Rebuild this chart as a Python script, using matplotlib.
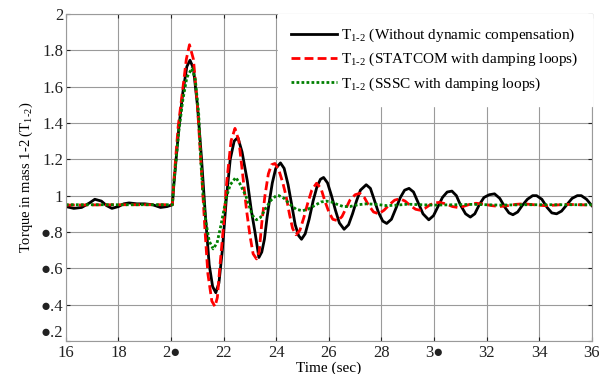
import matplotlib
matplotlib.use("Agg")
import matplotlib.pyplot as plt

# -----------------------------
# Fonts
# -----------------------------
plt.rcParams['font.family'] = ['Liberation Serif', 'DejaVu Sans']
plt.rcParams['mathtext.fontset'] = 'custom'
plt.rcParams['mathtext.rm'] = 'Liberation Serif'

# -----------------------------
# Data
# -----------------------------
t_black = [16.0, 16.3, 16.6, 16.9, 17.1, 17.35, 17.55, 17.75, 18.0, 18.2, 18.4, 18.7,
           19.0, 19.3, 19.6, 19.85, 20.05, 20.1, 20.3, 20.45, 20.6, 20.72, 20.85, 21.0,
           21.15, 21.3, 21.45, 21.58, 21.7, 21.82, 21.95, 22.1, 22.25, 22.4, 22.54, 22.7,
           22.9, 23.05, 23.19, 23.34, 23.45, 23.55, 23.65, 23.75, 23.85, 23.98, 24.16,
           24.3, 24.45, 24.6, 24.72, 24.85, 24.96, 25.1, 25.25, 25.4, 25.55, 25.68, 25.8,
           25.95, 26.1, 26.25, 26.4, 26.58, 26.75, 26.9, 27.05, 27.2, 27.42, 27.58, 27.72,
           27.88, 28.05, 28.2, 28.38, 28.55, 28.72, 28.88, 29.05, 29.22, 29.4, 29.58, 29.8,
           29.98, 30.15, 30.32, 30.5, 30.68, 30.85, 31.0, 31.2, 31.38, 31.55, 31.72, 31.9,
           32.1, 32.3, 32.5, 32.7, 32.85, 33.0, 33.18, 33.35, 33.55, 33.75, 33.9, 34.1,
           34.3, 34.48, 34.66, 34.85, 35.05, 35.25, 35.45, 35.6, 35.8, 36.0]
v_black = [0.94, 0.93, 0.935, 0.96, 0.98, 0.97, 0.945, 0.93, 0.94, 0.955, 0.96, 0.955,
           0.955, 0.95, 0.935, 0.94, 0.95, 1.05, 1.38, 1.57, 1.71, 1.745, 1.70, 1.50,
           1.22, 0.90, 0.62, 0.50, 0.466, 0.52, 0.70, 0.98, 1.20, 1.30, 1.32, 1.24,
           1.08, 0.92, 0.80, 0.66, 0.69, 0.76, 0.88, 0.98, 1.07, 1.15, 1.18,
           1.15, 1.06, 0.94, 0.84, 0.78, 0.76, 0.79, 0.87, 0.97, 1.05, 1.09, 1.10,
           1.07, 1.00, 0.92, 0.85, 0.815, 0.84, 0.90, 0.97, 1.03, 1.06, 1.04, 0.98,
           0.91, 0.86, 0.847, 0.87, 0.93, 0.99, 1.03, 1.04, 1.02, 0.96, 0.90, 0.867,
           0.89, 0.94, 0.99, 1.02, 1.025, 1.00, 0.95, 0.90, 0.882, 0.90, 0.95, 0.99,
           1.005, 1.01, 0.985, 0.935, 0.905, 0.895, 0.91, 0.945, 0.98, 1.00, 1.00, 0.98,
           0.935, 0.905, 0.90, 0.915, 0.95, 0.985, 1.00, 1.00, 0.98, 0.945]

t_red = [16.0, 18.0, 20.05, 20.1, 20.27, 20.44, 20.58, 20.7, 20.85, 21.0, 21.15, 21.29,
         21.4, 21.55, 21.67, 21.76, 21.85, 21.98, 22.12, 22.28, 22.43, 22.58, 22.72,
         22.87, 23.0, 23.12, 23.25, 23.35, 23.45, 23.57, 23.7, 23.82, 23.95, 24.1, 24.25,
         24.37, 24.5, 24.62, 24.75, 24.9, 25.05, 25.2, 25.35, 25.53, 25.7, 25.85, 26.0,
         26.15, 26.34, 26.5, 26.65, 26.8, 27.0, 27.18, 27.35, 27.5, 27.7, 27.9, 28.1,
         28.3, 28.5, 28.7, 28.9, 29.1, 29.3, 29.46, 29.65, 29.85, 30.05, 30.2, 30.45,
         30.7, 30.9, 31.1, 31.35, 31.6, 31.9, 32.2, 32.5, 32.8, 33.1, 33.4, 33.8, 34.2,
         34.6, 35.0, 35.5, 36.0]
v_red = [0.948, 0.95, 0.95, 1.07, 1.38, 1.58, 1.75, 1.83, 1.75, 1.50, 1.15, 0.81,
         0.57, 0.42, 0.39, 0.44, 0.60, 0.81, 1.08, 1.30, 1.37, 1.30, 1.12,
         0.92, 0.78, 0.68, 0.652, 0.69, 0.85, 1.00, 1.12, 1.17, 1.177, 1.14, 1.07,
         1.00, 0.90, 0.82, 0.785, 0.81, 0.88, 0.96, 1.03, 1.068, 1.04, 0.97, 0.91,
         0.87, 0.862, 0.885, 0.93, 0.975, 1.005, 1.013, 0.99, 0.95, 0.91, 0.90, 0.92,
         0.95, 0.975, 0.983, 0.97, 0.945, 0.925, 0.92, 0.93, 0.95, 0.96, 0.963, 0.955,
         0.94, 0.935, 0.94, 0.952, 0.958, 0.953, 0.945, 0.94, 0.945, 0.952, 0.955, 0.95, 0.945,
         0.948, 0.952, 0.95, 0.948]

t_green = [16.0, 18.0, 20.05, 20.1, 20.3, 20.45, 20.6, 20.79, 20.92, 21.05, 21.13, 21.22,
           21.33, 21.45, 21.6, 21.75, 21.9, 22.02, 22.12, 22.25, 22.46, 22.6, 22.84, 23.0,
           23.1, 23.25, 23.4, 23.6, 23.8, 24.0, 24.1, 24.3, 24.5, 24.75, 25.0, 25.2, 25.45,
           25.7, 25.9, 26.1, 26.35, 26.55, 26.8, 27.1, 27.44, 27.8, 28.2, 28.6, 29.0, 29.5,
           30.0, 30.8, 31.5, 32.5, 33.5, 34.5, 36.0]
v_green = [0.95, 0.95, 0.95, 1.06, 1.36, 1.53, 1.65, 1.70, 1.64, 1.45, 1.19, 1.00,
           0.85, 0.75, 0.707, 0.74, 0.84, 0.93, 1.00, 1.06, 1.10, 1.07, 1.00, 0.93,
           0.89, 0.867, 0.88, 0.93, 0.975, 1.00, 1.00, 0.985, 0.955, 0.925, 0.917, 0.925, 0.945,
           0.965, 0.97, 0.965, 0.95, 0.94, 0.94, 0.95, 0.955, 0.952, 0.945, 0.948, 0.953, 0.95,
           0.948, 0.95, 0.952, 0.948, 0.95, 0.95, 0.95]

x_ticks = [16, 18, 20, 22, 24, 26, 28, 30, 32, 34, 36]
x_tick_labels = ['16', '18', '2\u25cf', '22', '24', '26', '28', '3\u25cf', '32', '34', '36']
y_ticks = [0.2, 0.4, 0.6, 0.8, 1.0, 1.2, 1.4, 1.6, 1.8, 2.0]
y_tick_labels = ['\u25cf.2', '\u25cf.4', '\u25cf.6', '\u25cf.8', '1', '1.2', '1.4', '1.6', '1.8', '2']

sub = r'T$_{\mathregular{1\text{-}2}}$'
labels = [sub + ' (Without dynamic compensation)',
          sub + ' (STATCOM with damping loops)',
          sub + ' (SSSC with damping loops)']

# -----------------------------
# Figure
# -----------------------------
fig = plt.figure(figsize=(5.99, 3.74), dpi=100)
ax = fig.add_axes([0.110, 0.088, 0.878, 0.875])

ax.plot(t_black, v_black, color='black', lw=2.0, label=labels[0])
ax.plot(t_red, v_red, color='red', lw=2.0, ls=(0, (3.2, 1.5)), label=labels[1])
ax.plot(t_green, v_green, color='green', lw=2.0, ls=(0, (1, 0.8)), label=labels[2])

ax.set_xlim(16, 36)
ax.set_ylim(0.2, 2.0)
ax.set_xticks(x_ticks)
ax.set_xticklabels(x_tick_labels)
ax.set_yticks(y_ticks)
ax.set_yticklabels(y_tick_labels)
ax.tick_params(direction='in', length=3, width=0.8, top=True, right=True,
               labelsize=12, colors='#222222')
ax.tick_params(axis='x', pad=3)
ax.tick_params(axis='y', pad=2)
# lift the lowest y label a little so it clears the first x label
ax.get_yticklabels()[0].set_va('bottom')
ax.grid(True, color='#9a9a9a', lw=0.8)
for s in ax.spines.values():
    s.set_color('#9a9a9a')
    s.set_linewidth(0.8)

ax.set_xlabel('Time (sec)', fontsize=11, labelpad=0)
ax.set_ylabel('Torque in mass 1-2 (T$_{\\mathregular{1\\text{-}2}}$)', fontsize=10.5, labelpad=4)

leg = ax.legend(loc='upper right', bbox_to_anchor=(1.0, 1.0), borderaxespad=0.0,
                fontsize=11, frameon=True, fancybox=False, framealpha=1.0,
                edgecolor='white', facecolor='white', handlelength=3.0,
                handletextpad=0.3, labelspacing=0.45, borderpad=0.85)

fig.savefig('out.png', dpi=100)
